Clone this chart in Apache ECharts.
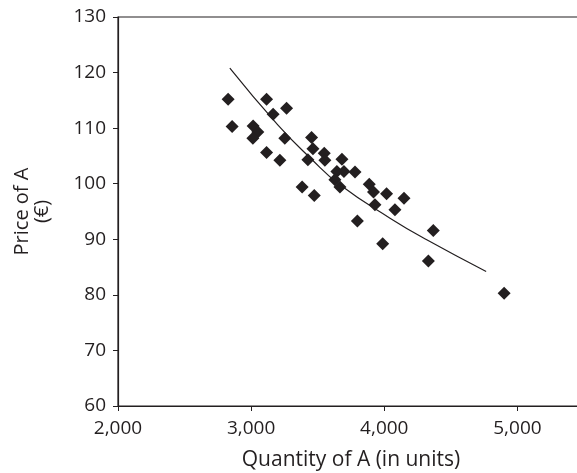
<!DOCTYPE html>
<html>
<head>
<meta charset="utf-8">
<script src="https://cdn.jsdelivr.net/npm/echarts@6/dist/echarts.min.js"></script>
<style>
html,body{margin:0;padding:0;background:#fff;}
#c{width:577px;height:473px;}
</style>
</head>
<body>
<div id="c"></div>
<script>
// Observed (quantity, price) pairs
const quantity = [2827, 3116, 3165, 3266, 2857, 3015, 3050, 3013, 3253, 3116, 3216, 3454, 3464, 3426, 3549, 3554, 3682, 3644, 3697, 3629, 3667, 3383, 3474, 3780, 3887, 3919, 4017, 4148, 3930, 4080, 3798, 3988, 4368, 4331, 4900];
const price    = [115.2, 115.2, 112.5, 113.6, 110.3, 110.4, 109.3, 108.2, 108.2, 105.6, 104.2, 108.3, 106.3, 104.3, 105.5, 104.2, 104.4, 102.2, 102.2, 100.7, 99.4, 99.4, 97.9, 102.1, 99.9, 98.5, 98.2, 97.4, 96.2, 95.3, 93.3, 89.2, 91.6, 86.1, 80.3];
// Trend line samples
const trendQty   = [2840, 3200, 3450, 3667, 4043, 4319, 4765];
const trendPrice = [120.8, 110.6, 104.5, 99.8, 93.8, 89.9, 84.2];
// Axis settings
const xTicks = [2000, 3000, 4000, 5000];
const yTicks = [60, 70, 80, 90, 100, 110, 120, 130];

const ink = '#231f20';
const font = '"Open Sans", "Noto Sans", sans-serif';

const chart = echarts.init(document.getElementById('c'), null, {renderer: 'canvas'});
chart.setOption({
  animation: false,
  backgroundColor: '#ffffff',
  grid: {left: 118, top: 17, height: 389, width: 466, containLabel: false, outerBoundsMode: 'none',
         show: true, borderColor: ink, borderWidth: 1.2, backgroundColor: 'transparent'},
  xAxis: {
    type: 'value', min: xTicks[0], max: 5500, interval: 1000,
    name: 'Quantity of A (in units)', nameLocation: 'middle', nameGap: 44,
    nameTextStyle: {fontFamily: font, fontSize: 21, color: ink},
    axisLine: {show: true, lineStyle: {color: ink, width: 1.2}},
    axisTick: {show: true, length: 5, lineStyle: {color: ink}},
    splitLine: {show: false},
    axisLabel: {
      fontFamily: font, fontSize: 19, color: ink, margin: 13,
      formatter: v => xTicks.indexOf(v) >= 0 ? v.toLocaleString('en-US') : ''
    }
  },
  yAxis: {
    type: 'value', min: yTicks[0], max: yTicks[yTicks.length - 1], interval: 10,
    name: 'Price of A\n(€)', nameLocation: 'middle', nameGap: 66, nameRotate: 90,
    nameTextStyle: {fontFamily: font, fontSize: 20, color: ink, lineHeight: 20, align: 'center'},
    axisLine: {show: true, lineStyle: {color: ink, width: 1.2}},
    axisTick: {show: true, length: 5, lineStyle: {color: ink}},
    splitLine: {show: false},
    axisLabel: {fontFamily: font, fontSize: 19, color: ink, margin: 12}
  },
  series: [
    {
      type: 'scatter', symbol: 'diamond', symbolSize: 13,
      itemStyle: {color: ink, opacity: 1},
      data: quantity.map((q, i) => [q, price[i]])
    },
    {
      type: 'line', smooth: 0.5, showSymbol: false, symbol: 'none',
      lineStyle: {color: ink, width: 1.2},
      data: trendQty.map((q, i) => [q, trendPrice[i]])
    }
  ]
});
</script>
</body>
</html>
